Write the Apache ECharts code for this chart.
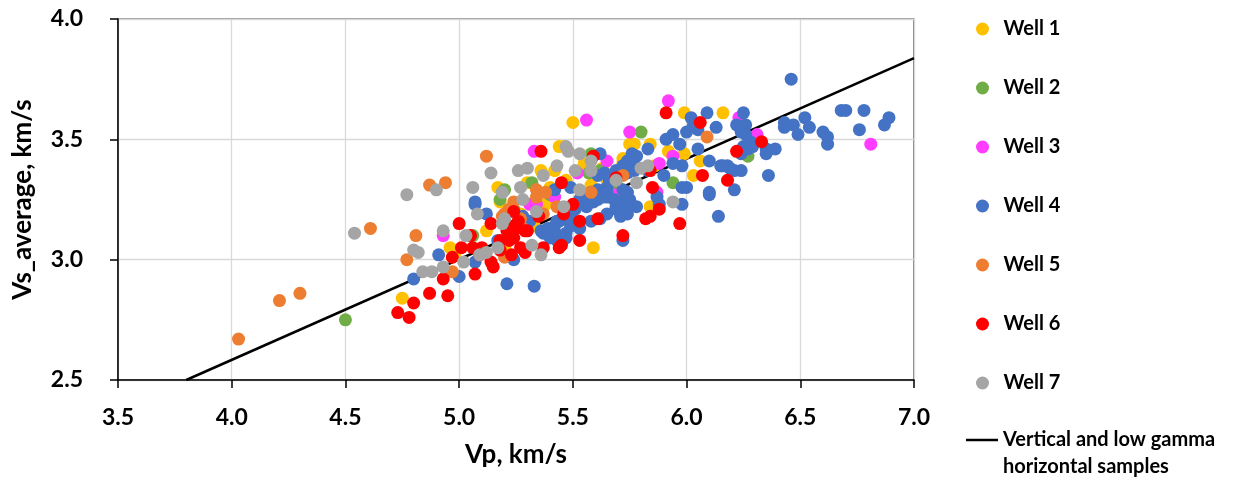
<!DOCTYPE html>
<html>
<head>
<meta charset="utf-8">
<script src="https://cdn.jsdelivr.net/npm/echarts@6/dist/echarts.min.js"></script>
<style>
html,body{margin:0;padding:0;background:#fff;}
#chart{width:1242px;height:480px;}
</style>
</head>
<body>
<div id="chart"></div>
<script>
const xTicks = [3.5, 4.0, 4.5, 5.0, 5.5, 6.0, 6.5, 7.0];
const yTicks = [2.5, 3.0, 3.5, 4.0];
const seriesNames = ['Well 1','Well 2','Well 3','Well 4','Well 5','Well 6','Well 7'];
const lineName = 'Vertical and low gamma horizontal samples';
const lineLabel1 = 'Vertical and low gamma';
const lineLabel2 = 'horizontal samples';
const lineData = [[3.8, 2.5], [7.0, 3.837]];

const well1 = [[4.75,2.84],[4.96,3.05],[4.98,3.02],[5.12,3.12],[5.17,3.30],[5.18,3.24],[5.20,3.05],[5.27,3.19],[5.30,3.32],[5.33,3.14],[5.36,3.37],[5.40,3.30],[5.42,3.37],[5.44,3.47],[5.46,3.47],[5.47,3.33],[5.48,3.21],[5.50,3.57],[5.53,3.25],[5.55,3.40],[5.56,3.28],[5.59,3.05],[5.60,3.35],[5.63,3.38],[5.65,3.33],[5.71,3.37],[5.72,3.40],[5.72,3.42],[5.75,3.48],[5.77,3.48],[5.84,3.48],[5.84,3.22],[5.86,3.39],[5.92,3.45],[5.99,3.61],[5.99,3.44],[6.03,3.35],[6.06,3.41],[6.16,3.61],[5.38,3.23],[5.58,3.31],[5.68,3.35]];
const well2 = [[4.50,2.75],[5.06,3.10],[5.18,3.25],[5.19,3.28],[5.20,3.29],[5.24,3.21],[5.32,3.32],[5.40,3.27],[5.57,3.36],[5.58,3.44],[5.58,3.28],[5.62,3.37],[5.70,3.30],[5.80,3.53],[5.94,3.32],[6.27,3.43]];
const well3 = [[4.93,3.10],[5.31,3.23],[5.33,3.45],[5.34,3.23],[5.40,3.11],[5.42,3.26],[5.56,3.58],[5.65,3.41],[5.69,3.27],[5.75,3.53],[5.87,3.28],[5.88,3.40],[5.92,3.66],[5.94,3.43],[6.23,3.59],[6.31,3.52],[6.81,3.48],[5.52,3.36]];
const well4 = [[4.80,2.92],[4.91,3.02],[5.00,2.93],[5.07,3.23],[5.07,3.24],[5.12,3.19],[5.17,3.08],[5.21,2.90],[5.24,3.00],[5.33,2.89],[5.07,2.99],
[5.28,3.18],[5.31,3.16],[5.36,3.12],[5.39,3.13],[5.42,3.14],[5.44,3.16],[5.40,3.09],[5.43,3.08],[5.37,3.11],[5.46,3.17],[5.49,3.18],[5.47,3.11],[5.47,3.09],[5.44,3.10],[5.53,3.13],[5.49,3.14],[5.43,3.16],
[5.58,3.16],[5.62,3.17],[5.65,3.19],[5.69,3.21],[5.74,3.21],[5.78,3.22],[5.71,3.18],[5.72,3.08],[5.55,3.25],[5.59,3.24],[5.65,3.26],[5.71,3.24],[5.75,3.23],[5.87,3.26],[5.88,3.23],[5.98,3.23],[6.10,3.27],[6.14,3.18],
[5.51,3.21],[5.53,3.25],[5.56,3.22],[5.61,3.25],[5.63,3.26],[5.65,3.30],[5.61,3.29],[5.58,3.28],[5.66,3.33],[5.72,3.29],[5.74,3.28],[5.75,3.25],[5.74,3.19],[5.69,3.22],[5.68,3.25],
[5.76,3.44],[5.75,3.40],[5.78,3.43],[5.83,3.46],[5.94,3.40],[5.98,3.39],[5.90,3.35],[5.98,3.30],[5.83,3.37],[5.74,3.41],[5.77,3.39],[5.74,3.36],[5.69,3.37],[5.42,3.29],[5.49,3.30],[5.65,3.28],[5.62,3.44],[5.64,3.36],[5.61,3.35],[5.72,3.39],[5.77,3.37],
[5.91,3.50],[5.94,3.52],[5.97,3.48],[6.00,3.53],[6.05,3.54],[6.02,3.59],[6.09,3.61],[6.13,3.55],[6.03,3.56],[6.05,3.46],[6.10,3.41],[6.15,3.39],[6.18,3.39],[6.21,3.37],[6.24,3.37],[6.19,3.38],[6.16,3.39],[6.10,3.28],[6.21,3.29],[6.00,3.30],
[6.25,3.61],[6.22,3.56],[6.26,3.56],[6.24,3.53],[6.26,3.52],[6.28,3.49],[6.25,3.47],[6.27,3.46],[6.24,3.44],[6.29,3.47],[6.35,3.46],[6.39,3.46],[6.35,3.44],[6.36,3.35],
[6.46,3.75],[6.43,3.57],[6.47,3.56],[6.52,3.59],[6.54,3.55],[6.49,3.52],[6.43,3.55],[6.60,3.53],[6.62,3.51],[6.62,3.48],[6.68,3.62],[6.70,3.62],[6.78,3.62],[6.76,3.54],[6.87,3.56],[6.89,3.59]];
const well5 = [[4.03,2.67],[4.21,2.83],[4.30,2.86],[4.61,3.13],[4.77,3.00],[4.81,3.10],[4.87,3.31],[4.94,3.32],[4.97,2.95],[5.12,3.43],[5.19,3.18],[5.20,3.19],[5.22,3.21],[5.20,3.01],[5.24,3.24],[5.27,3.17],[5.28,3.13],[5.34,3.29],[5.34,3.26],[5.37,3.19],[5.38,3.28],[5.43,3.22],[5.58,3.28],[5.72,3.35],[6.09,3.51]];
const well6 = [[4.73,2.78],[4.78,2.76],[4.80,2.82],[4.87,2.86],[4.95,2.85],[4.93,2.92],[4.97,3.01],[5.00,3.15],[5.01,3.05],[5.05,3.10],[5.06,3.05],[5.07,2.94],[5.09,3.02],[5.10,3.05],[5.14,2.99],[5.15,2.97],[5.14,3.15],[5.18,3.04],[5.18,3.08],[5.20,3.15],[5.21,3.12],[5.22,3.08],[5.23,3.02],[5.24,3.09],[5.24,3.14],[5.24,3.20],[5.25,3.13],[5.26,3.16],[5.27,3.05],[5.29,3.03],[5.29,3.12],[5.30,3.12],[5.35,3.18],[5.36,3.45],[5.37,3.05],[5.44,3.05],[5.45,3.06],[5.45,3.32],[5.46,3.19],[5.50,3.23],[5.53,3.16],[5.53,3.08],[5.59,3.43],[5.61,3.17],[5.69,3.34],[5.72,3.10],[5.82,3.17],[5.84,3.18],[5.84,3.37],[5.85,3.30],[5.88,3.21],[5.91,3.61],[5.97,3.15],[6.06,3.57],[6.07,3.35],[6.18,3.33],[6.22,3.45],[6.33,3.49]];
const well7 = [[4.54,3.11],[4.77,3.27],[4.80,3.04],[4.82,3.03],[4.84,2.95],[4.88,2.95],[4.90,3.29],[4.93,2.97],[4.93,3.12],[5.02,2.99],[5.03,3.10],[5.06,3.30],[5.08,3.19],[5.09,3.02],[5.12,3.03],[5.14,3.36],[5.17,3.05],[5.19,3.15],[5.20,3.17],[5.26,3.37],[5.27,3.30],[5.28,3.25],[5.30,3.38],[5.32,3.06],[5.34,3.20],[5.36,3.02],[5.37,3.35],[5.43,3.39],[5.46,3.22],[5.47,3.47],[5.48,3.45],[5.51,3.37],[5.53,3.44],[5.53,3.29],[5.58,3.37],[5.58,3.41],[5.69,3.33],[5.78,3.32],[5.80,3.38],[5.83,3.39],[5.94,3.24],[5.19,3.28]];

const wells = [well1, well2, well3, well4, well5, well6, well7];
const colors = ['#ffc000', '#70ad47', '#ff3cff', '#4472c4', '#ed7d31', '#ff0000', '#a5a5a5'];
const FONT = 'Lato';

const chart = echarts.init(document.getElementById('chart'), null, {renderer: 'canvas'});
const series = [{
  name: lineName,
  type: 'line',
  data: lineData,
  symbol: 'none',
  lineStyle: {color: '#000', width: 2.5},
  itemStyle: {color: '#000'},
  z: 1,
  silent: true
}];
wells.forEach((d, i) => {
  series.push({
    name: seriesNames[i],
    type: 'scatter',
    data: d,
    symbol: 'circle',
    symbolSize: 13,
    itemStyle: {color: colors[i], opacity: 1},
    z: 2
  });
});

const legendText = {fontFamily: FONT, fontSize: 20, fontWeight: 'bold', color: '#000', lineHeight: 26};

chart.setOption({
  animation: false,
  backgroundColor: '#fff',
  textStyle: {fontFamily: FONT},
  grid: {left: 118, right: 328, top: 19, bottom: 100, show: true, borderColor: '#333', borderWidth: 1.2, backgroundColor: 'transparent'},
  xAxis: {
    type: 'value', min: xTicks[0], max: xTicks[xTicks.length-1], interval: 0.5,
    name: 'Vp, km/s', nameLocation: 'middle', nameGap: 62,
    nameTextStyle: {fontFamily: FONT, fontSize: 26, fontWeight: 'bold', color: '#000'},
    axisLine: {show: true, lineStyle: {color: '#000', width: 1.5}},
    axisTick: {show: true, inside: false, length: 8, lineStyle: {color: '#000', width: 1.5}},
    axisLabel: {fontFamily: FONT, fontSize: 23, fontWeight: 'bold', color: '#000', margin: 26, formatter: v => v.toFixed(1)},
    splitLine: {show: true, lineStyle: {color: '#d9d9d9', width: 1.3}}
  },
  yAxis: {
    type: 'value', min: yTicks[0], max: yTicks[yTicks.length-1], interval: 0.5,
    name: 'Vs_average, km/s', nameLocation: 'middle', nameGap: 82, nameRotate: 90,
    nameTextStyle: {fontFamily: FONT, fontSize: 26, fontWeight: 'bold', color: '#000'},
    axisLine: {show: true, lineStyle: {color: '#000', width: 1.5}},
    axisTick: {show: true, inside: false, length: 8, lineStyle: {color: '#000', width: 1.5}},
    axisLabel: {fontFamily: FONT, fontSize: 23, fontWeight: 'bold', color: '#000', margin: 35, formatter: v => v.toFixed(1)},
    splitLine: {show: true, lineStyle: {color: '#d9d9d9', width: 1.3}}
  },
  legend: [{
    orient: 'vertical', left: 976, top: 16, padding: 0,
    itemWidth: 32, itemHeight: 13, itemGap: 33,
    data: seriesNames.map(n => ({name: n, icon: 'circle'})),
    textStyle: legendText,
    selectedMode: false
  }, {
    orient: 'vertical', left: 966, top: 427, padding: 0,
    itemWidth: 32, itemHeight: 2.5,
    data: [{name: lineName, icon: 'path://M0,0H32V2.5H0Z'}],
    formatter: () => lineLabel1,
    textStyle: legendText,
    selectedMode: false
  }],
  graphic: [{
    type: 'text', x: 1003, y: 467, silent: true,
    style: {text: lineLabel2, fontFamily: FONT, fontSize: 20, fontWeight: 'bold', fill: '#000', verticalAlign: 'middle', align: 'left'}
  }],
  series: series
});
</script>
</body>
</html>
